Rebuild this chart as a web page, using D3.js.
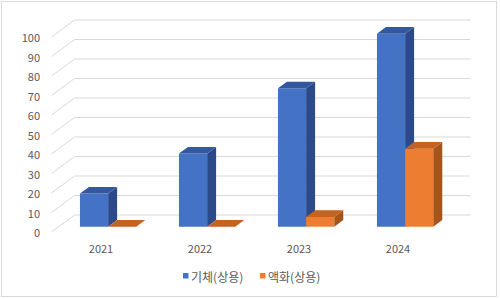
<!DOCTYPE html>
<html><head><meta charset="utf-8">
<script src="https://cdn.jsdelivr.net/npm/d3@7"></script>
<style>
html,body{margin:0;padding:0;background:#fff;}
svg{display:block;}
text{font-family:"Noto Sans CJK KR","Noto Sans",sans-serif;fill:#595959;}
</style></head>
<body>
<svg id="c" width="500" height="299"></svg>
<script>
const categories = ["2021", "2022", "2023", "2024"];
const seriesNames = ["기체(상용)", "액화(상용)"];
const gasValues = [17, 37.5, 71, 99];
const liquidValues = [0, 0, 5, 40];
const tickValues = [0, 10, 20, 30, 40, 50, 60, 70, 80, 90, 100];

const series = [
  {name: seriesNames[0], values: gasValues, front: "#4472c4", top: "#34589f", side: "#2c4a8a"},
  {name: seriesNames[1], values: liquidValues, front: "#ed7d31", top: "#c4621f", side: "#a5541a"}
];

const svg = d3.select("#c");
const W = 500, H = 299;
// outer border
svg.append("rect").attr("x", 1.5).attr("y", 1.5).attr("width", 495).attr("height", 295)
  .attr("fill", "#fff").attr("stroke", "#d9d9d9");

// 3D geometry
const DX = 23, DY = 17;          // full depth offset
const x = d3.scaleBand().domain(categories).range([51.5, 447.5]).paddingInner(0).paddingOuter(0);
const y = d3.scaleLinear().domain([0, 100]).range([232, 37]);
const P = (xf, v, d) => [xf + d * DX, y(v) - d * DY];

const g = svg.append("g");
// back wall gridlines + side diagonals
tickValues.forEach(t => {
  const a = P(x.range()[0], t, 0), b = P(x.range()[0], t, 1), c = P(x.range()[1], t, 1);
  g.append("path").attr("d", d3.line()([a, b, c]))
    .attr("fill", "none").attr("stroke", "#d9d9d9").attr("stroke-width", 1);
});

// y-axis labels
g.selectAll("text.yl").data(tickValues).enter().append("text")
  .attr("class", "yl").attr("x", 40).attr("y", d => y(d))
  .attr("text-anchor", "end").attr("dominant-baseline", "central")
  .attr("font-size", 11).text(d => d);

// category labels
g.selectAll("text.xl").data(categories).enter().append("text")
  .attr("class", "xl").attr("x", d => x(d) + x.bandwidth() / 2).attr("y", 248)
  .attr("text-anchor", "middle").attr("dominant-baseline", "central")
  .attr("font-size", 11).text(d => d);

// bars
const sub = d3.scaleBand().domain([0, 1]).range([0, x.bandwidth()]).paddingOuter(0.757).paddingInner(0);
const d0 = 0.31, d1 = 0.70;
const poly = pts => "M" + pts.map(p => p.join(",")).join("L") + "Z";
categories.forEach((cat, ci) => {
  series.forEach((s, si) => {
    const v = s.values[ci];
    const xl = x(cat) + sub(si), xr = xl + sub.bandwidth();
    // front face
    if (v > 0) {
      g.append("path").attr("d", poly([P(xl, 0, d0), P(xr, 0, d0), P(xr, v, d0), P(xl, v, d0)]))
        .attr("fill", s.front);
      // side face
      g.append("path").attr("d", poly([P(xr, 0, d0), P(xr, 0, d1), P(xr, v, d1), P(xr, v, d0)]))
        .attr("fill", s.side);
    }
    // top face
    g.append("path").attr("d", poly([P(xl, v, d0), P(xr, v, d0), P(xr, v, d1), P(xl, v, d1)]))
      .attr("fill", s.top);
  });
});

// legend
const legend = svg.append("g");
const legX = [183, 260];
series.forEach((s, i) => {
  legend.append("rect").attr("x", legX[i]).attr("y", 273).attr("width", 5.5).attr("height", 5.5).attr("fill", s.front);
  legend.append("text").attr("x", legX[i] + 8).attr("y", 276).attr("dominant-baseline", "central")
    .attr("font-size", 12).text(s.name);
});
</script>
</body></html>
